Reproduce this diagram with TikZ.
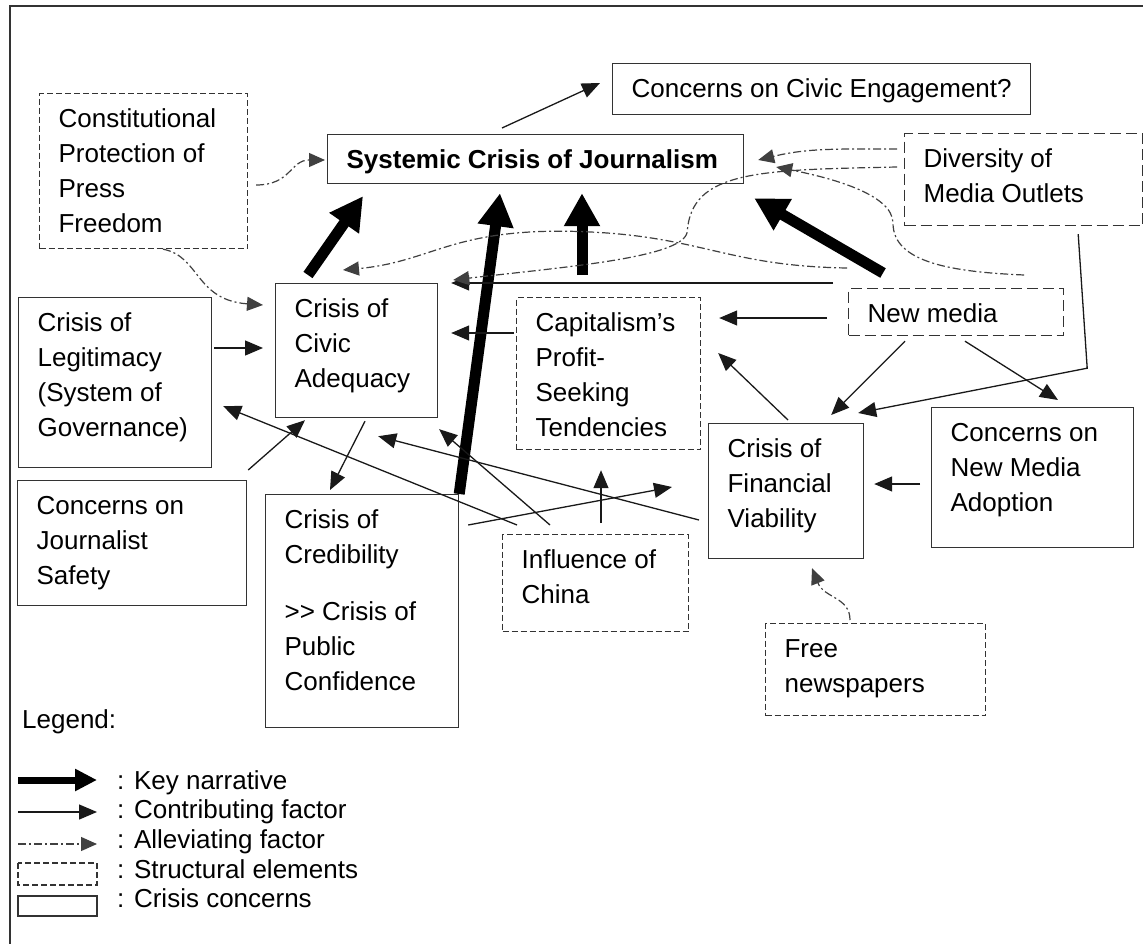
\documentclass[tikz,border=0pt]{standalone}
\usepackage{fontspec}
\setmainfont{Liberation Sans}
\usetikzlibrary{arrows.meta}

% box text: width, height, lines (top left)
\newcommand{\boxtext}[3]{\parbox[c][#2pt][t]{#1pt}{\raggedright\leftskip=19pt\vspace*{9.5pt}\strut#3}}

\tikzset{
  crisis/.style={draw=black!80, line width=1.2pt, anchor=north west, inner sep=0pt},
  struct/.style={crisis, dash pattern=on 6pt off 3pt},
  structlong/.style={crisis, dash pattern=on 11pt off 5pt},
  contrib/.style={draw=black!90, line width=1.3pt, -{Triangle[length=18pt,width=15pt]}},
  keyarrow/.style={line width=11pt, -{Triangle[length=33pt,width=34pt]}},
  legkey/.style={line width=7pt, -{Triangle[length=22pt,width=21pt]}},
  allev/.style={draw=black!75, line width=1.2pt, dash pattern=on 8pt off 3pt on 2pt off 3pt, -{Triangle[length=16pt,width=14pt]}},
  legtext/.style={anchor=base west, inner sep=0pt},
}

\begin{document}
\begin{tikzpicture}[x=1pt, y=-1pt, font=\fontsize{26}{35}\selectfont]
\useasboundingbox (0,0) rectangle (1143,944);
\draw[black!80, line width=1.5pt] (1143,6) -- (10,6) -- (10,944);

% boxes
\node[crisis] (engage) at (612,63) {\boxtext{418}{51}{Concerns on Civic Engagement?}};
\node[crisis] (systemic) at (327,134) {\boxtext{416}{49}{\bfseries Systemic Crisis of Journalism}};
\node[struct] (constit) at (39,93) {\boxtext{208}{155}{Constitutional\\Protection of\\Press\\Freedom}};
\node[structlong] (divers) at (904,133) {\boxtext{238}{92}{Diversity of\\Media Outlets}};
\node[crisis] (civic) at (275,283) {\boxtext{162}{134}{Crisis of\\Civic\\Adequacy}};
\node[crisis] (legit) at (18,297) {\boxtext{193}{170}{Crisis of\\Legitimacy\\(System of\\Governance)}};
\node[struct] (capital) at (516,297) {\boxtext{184}{152}{Capitalism’s\\Profit-\\Seeking\\Tendencies}};
\node[structlong] (newmedia) at (848,288) {\boxtext{215}{47}{New media}};
\node[crisis] (finance) at (708,423) {\boxtext{155}{135}{Crisis of\\Financial\\Viability}};
\node[crisis] (adopt) at (931,407) {\boxtext{202}{140}{Concerns on\\New Media\\Adoption}};
\node[crisis] (safety) at (17,480) {\boxtext{229}{125}{Concerns on\\Journalist\\Safety}};
\node[crisis] (cred) at (265,494) {\boxtext{193}{233}{Crisis of\\Credibility\\[22pt]>\kern0pt> Crisis of\\Public\\Confidence}};
\node[struct] (china) at (502,534) {\boxtext{186}{97}{Influence of\\China}};
\node[struct] (freenews) at (765,623) {\boxtext{220}{92}{Free\\newspapers}};

% key narrative
\draw[keyarrow] ([shift={(33,-8)}]civic.north west) -- ([shift={(36,12)}]systemic.south west);
\draw[keyarrow] (cred.north east) -- ([shift={(173,9)}]systemic.south west);
\draw[keyarrow] ([shift={(66,-22)}]capital.north west) -- ([shift={(255,9)}]systemic.south west);
\draw[keyarrow] ([shift={(35,-15)}]newmedia.north west) -- ([shift={(10,14)}]systemic.south east);

% contributing factors
\draw[contrib] ([shift={(175,-6)}]systemic.north west) -- ([shift={(-12,20)}]engage.north west);
\draw[contrib] ([shift={(-15,-5)}]newmedia.north west) -- ([shift={(13,0)}]civic.north east);
\draw[contrib] ([shift={(-21,30)}]newmedia.north west) -- ([shift={(18,21)}]capital.north east);
\draw[contrib] ([shift={(-2,36)}]capital.north west) -- ([shift={(13,50)}]civic.north east);
\draw[contrib] ([shift={(2,51)}]legit.north east) -- ([shift={(-12,65)}]civic.north west);
\draw[contrib] ([shift={(1,-10)}]safety.north east) -- ([shift={(30,2)}]civic.south west);
\draw[contrib] ([shift={(90,3)}]civic.south west) -- ([shift={(65,-4)}]cred.north west);
\draw[contrib] ([shift={(15,-9)}]china.north west) -- ([shift={(11,-62)}]legit.south east);
\draw[contrib] ([shift={(48,-9)}]china.north west) -- ([shift={(1,11)}]civic.south east);
\draw[contrib] ([shift={(99,-11)}]china.north west) -- ([shift={(85,20)}]capital.south west);
\draw[contrib] ([shift={(9,31)}]cred.north east) -- ([shift={(-36,64)}]finance.north west);
\draw[contrib] ([shift={(-9,97)}]finance.north west) -- ([shift={(-60,18)}]civic.south east);
\draw[contrib] ([shift={(80,-3)}]finance.north west) -- ([shift={(17,56)}]capital.north east);
\draw[contrib] ([shift={(57,5)}]newmedia.south west) -- ([shift={(-33,-8)}]finance.north east);
\draw[contrib] ([shift={(117,5)}]newmedia.south west) -- ([shift={(127,-7)}]adopt.north west);
\draw[contrib] ([shift={(-65,8)}]divers.south east) -- ([shift={(-56,142)}]divers.south east) -- ([shift={(-6,-10)}]finance.north east);
\draw[contrib] ([shift={(-11,77)}]adopt.north west) -- ([shift={(10,61)}]finance.north east);

% alleviating factors
\draw[allev] ([shift={(8,92)}]constit.north east) .. controls +(35,0) and +(-35,0) .. ([shift={(-2,26)}]systemic.north west);
\draw[allev] ([shift={(124,0)}]constit.south west) .. controls +(37,7) and +(-68,-5) .. ([shift={(-12,22)}]civic.north west);
\draw[allev] ([shift={(-7,16)}]divers.north west) .. controls +(-60,0) and +(50,-12) .. ([shift={(14,26)}]systemic.north east);
\draw[allev] ([shift={(-40,-13)}]newmedia.north east) .. controls +(-70,-3) and +(0,40) .. ([shift={(-11,-3)}]divers.south west)
  .. controls +(0,-30) and +(50,10) .. ([shift={(32,33)}]systemic.north east);
\draw[allev] ([shift={(-7,34)}]divers.north west) .. controls +(-137,3) and +(4,-62) .. ([shift={(-14,-65)}]capital.north east)
  .. controls +(-4,26) and +(110,-13) .. ([shift={(15,-3)}]civic.north east);
\draw[allev] ([shift={(-1,-20)}]newmedia.north west) .. controls +(-127,-2) and +(135,2) .. ([shift={(238,47)}]systemic.south west)
  .. controls +(-115,-1) and +(87,-8) .. ([shift={(68,-13)}]civic.north west);
\draw[allev] ([shift={(85,-3)}]freenews.north west) .. controls +(0,-23) and +(12,30) .. ([shift={(104,9)}]finance.south west);

% legend
\node[legtext] (legend) at (22,728) {Legend:};
\node[legtext] (lkey) at (117,789) {: Key narrative};
\node[legtext] (lcon) at (117,818) {: Contributing factor};
\node[legtext] (lall) at (117,848) {: Alleviating factor};
\node[legtext] (lstr) at (117,878) {: Structural elements};
\node[legtext] (lcri) at (117,907) {: Crisis concerns};
\draw[legkey] ([shift={(-99,-9)}]lkey.base west) -- ([shift={(-20,-9)}]lkey.base west);
\draw[contrib] ([shift={(-99,-6)}]lcon.base west) -- ([shift={(-20,-6)}]lcon.base west);
\draw[allev] ([shift={(-99,-4)}]lall.base west) -- ([shift={(-20,-4)}]lall.base west);
\draw[black!80, line width=1.2pt, dash pattern=on 6pt off 3pt] ([shift={(-99,-15)}]lstr.base west) rectangle ([shift={(-20,7)}]lstr.base west);
\draw[black!80, line width=1.2pt] ([shift={(-99,-11)}]lcri.base west) rectangle ([shift={(-20,9)}]lcri.base west);

\end{tikzpicture}
\end{document}
